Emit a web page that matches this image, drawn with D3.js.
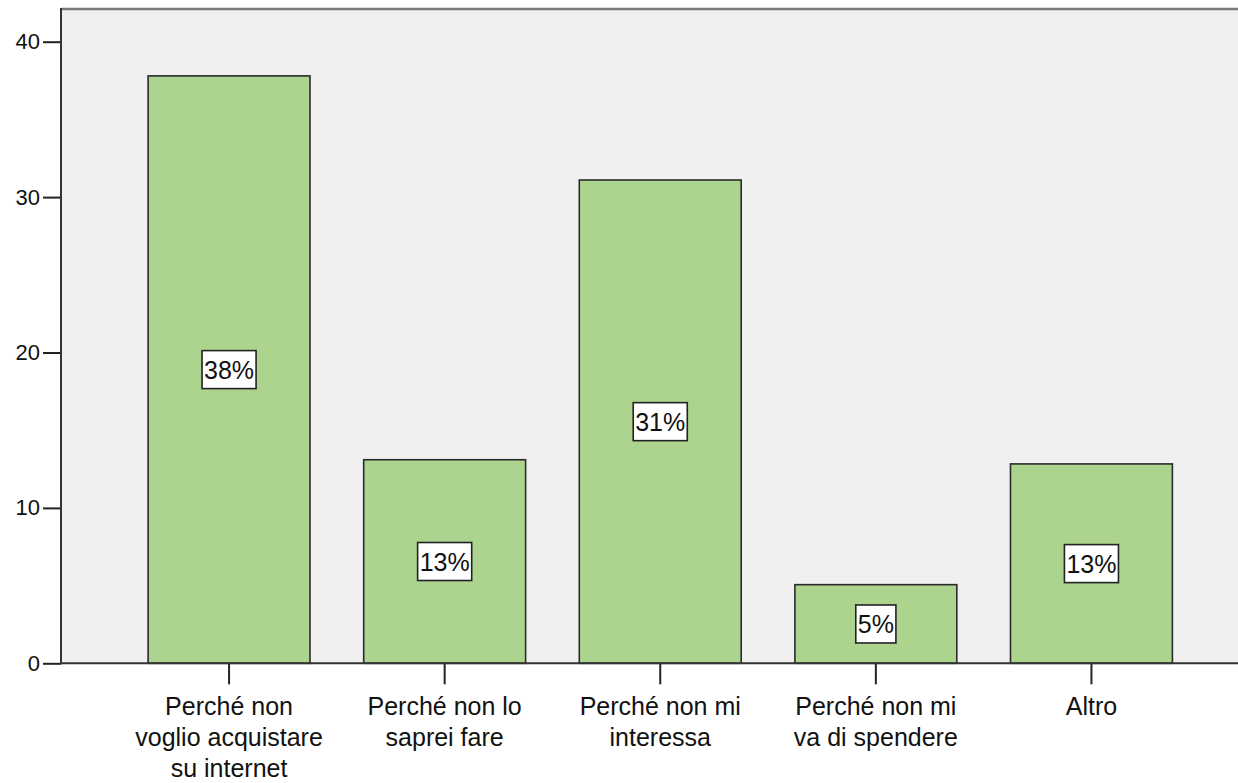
<!DOCTYPE html>
<html>
<head>
<meta charset="utf-8">
<script src="https://cdn.jsdelivr.net/npm/d3@7"></script>
<style>
  html, body { margin: 0; padding: 0; background: #ffffff; }
  svg { display: block; }
  text { font-family: "Liberation Sans", Arial, sans-serif; fill: #111; }
</style>
</head>
<body>
<svg id="chart" width="1238" height="783"></svg>
<script>
const categories = [
  ["Perché non", "voglio acquistare", "su internet"],
  ["Perché non lo", "saprei fare"],
  ["Perché non mi", "interessa"],
  ["Perché non mi", "va di spendere"],
  ["Altro"]
];
const values = [37.8, 13.1, 31.1, 5.06, 12.83];
const percentLabels = ["38%", "13%", "31%", "5%", "13%"];
const yTicks = [0, 10, 20, 30, 40];

const svg = d3.select("#chart");
const mLeft = 61, mTop = 9, mBottom = 663.3, mRight = 1259.5;
const yMax = (mBottom - mTop) / ((663.3 - 41.7) / 40);

const x = d3.scaleBand()
  .domain(d3.range(categories.length))
  .range([mLeft, mRight])
  .paddingInner(0.249)
  .paddingOuter(0.404);

const y = d3.scaleLinear().domain([0, yMax]).range([mBottom, mTop]);

// plot background
svg.append("rect")
  .attr("x", mLeft).attr("y", mTop)
  .attr("width", 1238 - mLeft).attr("height", mBottom - mTop)
  .attr("fill", "#f0f0f0");

// top border
svg.append("line")
  .attr("x1", mLeft).attr("x2", 1238)
  .attr("y1", mTop).attr("y2", mTop)
  .attr("stroke", "#7a7a7a").attr("stroke-width", 2.5);

// bars
svg.append("g").selectAll("rect")
  .data(values)
  .join("rect")
  .attr("x", (d, i) => x(i))
  .attr("y", d => y(d))
  .attr("width", x.bandwidth())
  .attr("height", d => y(0) - y(d))
  .attr("fill", "#acd48e")
  .attr("stroke", "#2b2b2b")
  .attr("stroke-width", 1.6);

// y axis
const yAxis = d3.axisLeft(y).tickValues(yTicks).tickSize(18).tickPadding(3).tickFormat(d3.format("d"));
const gy = svg.append("g").attr("transform", `translate(${mLeft},0)`).call(yAxis);
gy.select(".domain").remove();
gy.selectAll(".tick line").attr("stroke", "#222").attr("stroke-width", 2);
gy.selectAll(".tick text")
  .attr("font-size", 22)
  .attr("font-family", "Liberation Sans, Arial, sans-serif")
  .attr("fill", "#111");

svg.append("line")
  .attr("x1", mLeft).attr("x2", mLeft)
  .attr("y1", mTop - 1).attr("y2", mBottom + 1)
  .attr("stroke", "#333").attr("stroke-width", 2);

// x axis
const xAxis = d3.axisBottom(x).tickSize(21).tickFormat("");
const gx = svg.append("g").attr("transform", `translate(0,${mBottom})`).call(xAxis);
gx.select(".domain").remove();
gx.selectAll(".tick line").attr("stroke", "#222").attr("stroke-width", 2);

svg.append("line")
  .attr("x1", mLeft).attr("x2", 1238)
  .attr("y1", mBottom).attr("y2", mBottom)
  .attr("stroke", "#333").attr("stroke-width", 2);

// category labels
categories.forEach((lines, i) => {
  const t = svg.append("text")
    .attr("text-anchor", "middle")
    .attr("font-size", 25)
    .attr("x", x(i) + x.bandwidth() / 2)
    .attr("y", 715);
  lines.forEach((ln, j) => {
    t.append("tspan")
      .attr("x", x(i) + x.bandwidth() / 2)
      .attr("dy", j === 0 ? 0 : 31)
      .text(ln);
  });
});

// percentage labels with boxes
values.forEach((v, i) => {
  const cx = x(i) + x.bandwidth() / 2;
  const cy = y(v / 2);
  const g = svg.append("g");
  const rect = g.append("rect");
  const t = g.append("text")
    .attr("text-anchor", "middle")
    .attr("font-size", 25)
    .attr("x", cx)
    .attr("y", cy + 9)
    .text(percentLabels[i]);
  const bb = t.node().getBBox();
  rect.attr("x", cx - bb.width / 2 - 2)
    .attr("y", cy - 19)
    .attr("width", bb.width + 4)
    .attr("height", 38)
    .attr("fill", "#ffffff")
    .attr("stroke", "#222")
    .attr("stroke-width", 1.6);
});
</script>
</body>
</html>
